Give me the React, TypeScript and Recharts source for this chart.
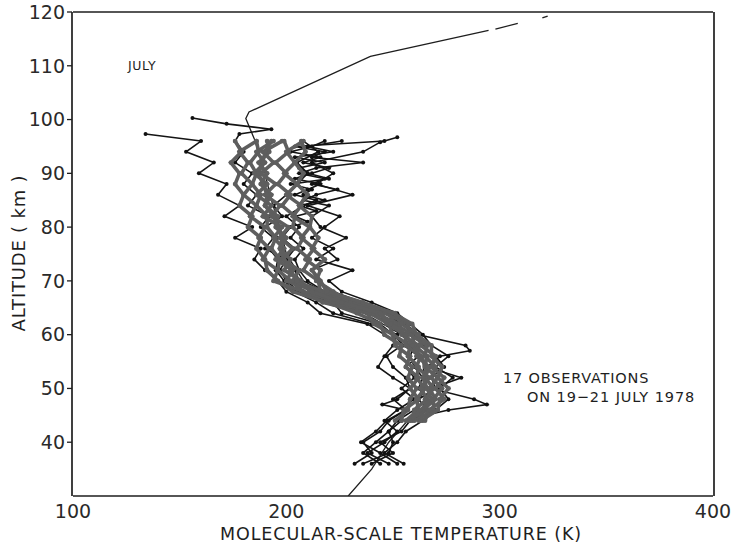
import React from "react";
import { ScatterChart, Scatter, XAxis, YAxis } from "recharts";

// axis ticks
const X_LABELS = [100, 200, 300, 400];
const X_MINOR = [110, 120, 130, 140, 150, 160, 170, 180, 190, 210, 220, 230, 240, 250, 260, 270, 280, 290, 310, 320, 330, 340, 350, 360, 370, 380, 390];
const Y_LABELS = [40, 50, 60, 70, 80, 90, 100, 110, 120];
const Y_MAJOR = [30, 40, 50, 60, 70, 80, 90, 100, 110, 120];
const Y_MINOR = [35, 45, 55, 65, 75, 85, 95, 105, 115];

// reference (model) profile: [altitude km, temperature K]
const MODEL: [number, number][] = [
  [30, 229], [35, 240], [40, 248], [45, 259], [50, 265], [55, 264], [60, 254], [65, 232],
  [70, 208], [75, 200], [80, 197], [85, 193], [90, 190], [96.4, 185], [100.2, 181], [101.4, 182.5],
  [111.75, 239.4], [116.6, 294.8],
];
const MODEL_DASH_1: [number, number][] = [[116.8, 298], [117.9, 308.5]];
const MODEL_DASH_2: [number, number][] = [[118.9, 320], [119.25, 322.5]];

// altitude levels of the dense (grey) profiles
const GREY_ALT = [44, 46, 48, 50, 52, 54, 56, 58, 60, 62, 64, 66, 68, 70, 72, 74, 76, 78, 80, 82, 84, 86, 88, 90, 92, 94, 96];

const OBS_G1 = [251, 257, 258, 261, 257, 259, 253, 254, 246, 244, 233, 219, 203, 196, 191, 190, 186, 188, 182, 184, 178, 180, 176, 178, 174, 179, 176];
const OBS_G2 = [254, 255, 262, 258, 262, 256, 258, 251, 250, 241, 238, 217, 208, 194, 196, 189, 192, 187, 190, 183, 186, 180, 184, 179, 182, 178, 186];
const OBS_G3 = [256, 262, 261, 265, 261, 262, 257, 258, 250, 248, 239, 224, 208, 202, 196, 197, 193, 195, 191, 191, 186, 188, 184, 186, 183, 187, 186];
const OBS_G4 = [259, 260, 266, 263, 267, 261, 263, 256, 256, 247, 244, 222, 214, 200, 203, 195, 199, 194, 198, 189, 193, 186, 191, 185, 190, 186, 194];
const OBS_G5 = [257, 266, 265, 269, 265, 267, 261, 262, 254, 253, 241, 230, 211, 207, 199, 202, 197, 200, 195, 196, 190, 193, 188, 191, 187, 192, 191];
const OBS_G6 = [262, 264, 270, 267, 271, 265, 266, 260, 259, 251, 248, 227, 218, 203, 206, 198, 203, 197, 201, 193, 197, 190, 195, 188, 194, 189, 198];
const OBS_G7 = [260, 269, 269, 273, 268, 270, 265, 266, 258, 257, 246, 233, 216, 215, 208, 211, 205, 208, 203, 204, 198, 202, 196, 200, 195, 201, 199];
const OBS_G8 = [265, 267, 274, 270, 274, 268, 270, 263, 262, 254, 251, 230, 222, 214, 216, 209, 213, 207, 211, 203, 207, 200, 205, 199, 204, 200, 208];
const OBS_G9 = [263, 271, 272, 276, 271, 273, 268, 268, 261, 259, 250, 236, 219, 216, 212, 218, 212, 215, 211, 212, 206, 210, 205, 208, 204, 209, 207];
const OBS_G10 = [258, 263, 268, 266, 264, 266, 263, 259, 256, 249, 244, 226, 212, 205, 202, 199, 197, 198, 196, 194, 190, 191, 189, 187, 189, 190, 193];

// outer (black) profiles: [altitude km, temperature K]
const OBS_B1: [number, number][] = [
  [36, 232], [38, 240], [40, 236], [42, 244], [44, 248], [46, 256], [48, 250], [50, 258], [52, 256], [54, 250],
  [56, 247], [58, 254], [60, 246], [62, 238], [64, 216], [66, 210], [68, 200], [70, 196], [72, 190], [74, 185],
  [76, 188], [78, 176], [80, 184], [82, 171], [84, 178], [86, 168], [88, 172], [90, 159], [92, 166], [94, 153],
  [96, 160], [97.3, 134],
];
const OBS_B2: [number, number][] = [
  [36, 248], [38, 238], [40, 246], [42, 252], [44, 246], [46, 252], [48, 260], [50, 254], [52, 260], [54, 256],
  [56, 262], [58, 255], [60, 250], [62, 244], [64, 226], [66, 222], [68, 206], [70, 200], [72, 197], [74, 200],
  [76, 190], [78, 194], [80, 188], [82, 192], [84, 182], [86, 186], [88, 180], [90, 184], [92, 176], [94, 180],
  [96, 176], [97.3, 178], [98.2, 193], [99.2, 172], [100.3, 156],
];
const OBS_B3: [number, number][] = [
  [36, 255], [38, 246], [40, 252], [42, 256], [44, 264], [46, 270], [48, 276], [50, 272], [52, 278], [54, 270],
  [56, 276], [58, 268], [60, 264], [62, 258], [64, 252], [66, 240], [68, 226], [70, 220], [72, 231], [74, 214],
  [76, 222], [78, 212], [80, 218], [82, 225], [84, 210], [86, 231], [88, 214], [90, 222], [92, 212], [94, 236],
  [95.8, 244], [96.7, 252],
];
const OBS_B4: [number, number][] = [
  [36, 240], [38, 250], [40, 244], [42, 254], [44, 258], [46, 266], [48, 262], [50, 270], [52, 268], [54, 274],
  [56, 270], [58, 264], [60, 260], [62, 254], [64, 246], [66, 236], [68, 222], [70, 215], [72, 212], [74, 224],
  [76, 218], [78, 228], [80, 216], [82, 212], [84, 220], [85, 208], [86, 214], [87, 224], [88, 212], [89, 218],
  [90, 206], [91, 214], [92, 236], [93, 212], [94, 218], [95, 204], [96, 246],
];
const OBS_B5: [number, number][] = [
  [36, 244], [38, 236], [40, 242], [42, 248], [44, 254], [46, 276], [47, 294], [48, 288], [50, 268], [52, 282],
  [54, 266], [56, 272], [57, 286], [58, 284], [60, 262], [62, 256], [64, 248], [66, 230], [68, 218], [70, 210],
  [72, 206], [74, 204], [76, 208], [78, 202], [80, 206], [82, 200], [84, 208], [85, 214], [86, 204], [87, 210],
  [88, 216], [89, 204], [90, 212], [91, 220], [92, 208], [93, 216], [94, 202], [95, 212], [96, 218],
];
const OBS_B6: [number, number][] = [
  [36, 252], [38, 244], [40, 235], [42, 242], [44, 247], [46, 256], [47, 245], [48, 252], [50, 258], [52, 250],
  [54, 243], [56, 246], [58, 250], [60, 252], [62, 240], [64, 222], [66, 214], [68, 204], [70, 199], [72, 195],
  [74, 196], [76, 192], [78, 196], [80, 190], [82, 198], [84, 194], [86, 200], [88, 205], [90, 210], [92, 205],
  [94, 215], [96, 208],
];
const OBS_B7: [number, number][] = [
  [36, 236], [38, 248], [40, 250], [42, 248], [44, 252], [46, 260], [48, 266], [50, 262], [52, 264], [54, 260],
  [56, 258], [58, 260], [60, 256], [62, 250], [64, 238], [66, 228], [68, 214], [70, 206], [72, 204], [74, 200],
  [76, 204], [78, 198], [80, 202], [81, 210], [82, 204], [83, 214], [84, 206], [85, 218], [86, 208], [87, 212],
  [88, 202], [89, 220], [90, 210], [91, 206], [92, 218], [93, 204], [94, 222], [95, 210], [96, 226],
];

const GREY_OBS = [OBS_G1, OBS_G2, OBS_G3, OBS_G4, OBS_G5, OBS_G6, OBS_G7, OBS_G8, OBS_G9, OBS_G10];
const BLACK_OBS = [OBS_B1, OBS_B2, OBS_B3, OBS_B4, OBS_B5, OBS_B6, OBS_B7];

const pairsToPoints = (pairs: [number, number][]) => pairs.map(([z, t]) => ({ t, z }));
const greyToPoints = (temps: number[]) => temps.map((t, i) => ({ t, z: GREY_ALT[i] }));

const INK = "#1e1e1e";
const GREY = "#5e5e5e";
const FONT = "'DejaVu Sans', sans-serif";
const axisLine = { stroke: INK, strokeWidth: 1.7 };
const tickLine = { stroke: INK, strokeWidth: 1.3 };
const tickText = { fill: "#2a2a2a", fontSize: 19, fontFamily: FONT };

const NoDot = () => <g />;
const BlackDot = (props: any) => <circle cx={props.cx} cy={props.cy} r={2} fill="#111" />;
const GreyDot = (props: any) => <circle cx={props.cx} cy={props.cy} r={2.4} fill={GREY} />;

export default function App() {
  return (
    <div style={{ position: "absolute", left: 0, top: 0, width: 739, height: 547, background: "#fff" }}>
      <ScatterChart width={739} height={547} margin={{ top: 12, right: 24, bottom: 50, left: 71 }}>
        {/* main axes */}
        <XAxis xAxisId="x" type="number" dataKey="t" domain={[100, 400]} ticks={X_LABELS} interval={0} height={1} axisLine={axisLine} tickLine={false} tickSize={6} tickMargin={3} tick={tickText} allowDataOverflow />
        <YAxis yAxisId="y" type="number" dataKey="z" domain={[30, 120]} ticks={Y_LABELS} interval={0} width={1} axisLine={axisLine} tickLine={tickLine} tickSize={5} tickMargin={2} tick={tickText} allowDataOverflow />
        {/* minor / inner ticks */}
        <XAxis xAxisId="bmin" type="number" domain={[100, 400]} ticks={X_MINOR} interval={0} height={1} mirror tick={false} axisLine={false} tickLine={tickLine} tickSize={3} allowDataOverflow />
        <XAxis xAxisId="bmaj" type="number" domain={[100, 400]} ticks={X_LABELS} interval={0} height={1} mirror tick={false} axisLine={false} tickLine={tickLine} tickSize={7} allowDataOverflow />
        <XAxis xAxisId="tmaj" orientation="top" type="number" domain={[100, 400]} ticks={X_LABELS} interval={0} height={1} mirror tick={false} axisLine={axisLine} tickLine={tickLine} tickSize={7} allowDataOverflow />
        <XAxis xAxisId="tmin" orientation="top" type="number" domain={[100, 400]} ticks={X_MINOR} interval={0} height={1} mirror tick={false} axisLine={false} tickLine={tickLine} tickSize={3} allowDataOverflow />
        <YAxis yAxisId="lmin" type="number" domain={[30, 120]} ticks={Y_MINOR} interval={0} width={1} tick={false} axisLine={false} tickLine={tickLine} tickSize={3} allowDataOverflow />
        <YAxis yAxisId="rout" orientation="right" type="number" domain={[30, 120]} ticks={Y_MAJOR} interval={0} width={1} tick={false} axisLine={axisLine} tickLine={tickLine} tickSize={6} allowDataOverflow />
        <YAxis yAxisId="rin" orientation="right" type="number" domain={[30, 120]} ticks={Y_MAJOR} interval={0} width={1} mirror tick={false} axisLine={false} tickLine={tickLine} tickSize={5} allowDataOverflow />
        <YAxis yAxisId="rmin" orientation="right" type="number" domain={[30, 120]} ticks={Y_MINOR} interval={0} width={1} tick={false} axisLine={false} tickLine={tickLine} tickSize={3} allowDataOverflow />

        <Scatter xAxisId="x" yAxisId="y" data={pairsToPoints(MODEL)} line={{ stroke: INK, strokeWidth: 1.3 }} shape={NoDot} isAnimationActive={false} />
        <Scatter xAxisId="x" yAxisId="y" data={pairsToPoints(MODEL_DASH_1)} line={{ stroke: INK, strokeWidth: 1.3 }} shape={NoDot} isAnimationActive={false} />
        <Scatter xAxisId="x" yAxisId="y" data={pairsToPoints(MODEL_DASH_2)} line={{ stroke: INK, strokeWidth: 1.3 }} shape={NoDot} isAnimationActive={false} />

        {BLACK_OBS.map((obs, i) => (
          <Scatter key={`b${i}`} xAxisId="x" yAxisId="y" data={pairsToPoints(obs)} line={{ stroke: "#141414", strokeWidth: 1.6 }} shape={BlackDot} isAnimationActive={false} />
        ))}
        {GREY_OBS.map((obs, i) => (
          <Scatter key={`g${i}`} xAxisId="x" yAxisId="y" data={greyToPoints(obs)} line={{ stroke: GREY, strokeWidth: 3.6 }} shape={GreyDot} isAnimationActive={false} />
        ))}
      </ScatterChart>

      <div style={{ position: "absolute", left: 128, top: 60, fontFamily: FONT, fontSize: 12.5, lineHeight: "12.5px", color: INK, letterSpacing: 0.6 }}>JULY</div>
      <div style={{ position: "absolute", left: 503, top: 371, fontFamily: FONT, fontSize: 14.5, lineHeight: "14.5px", color: INK, letterSpacing: 0.8, whiteSpace: "nowrap" }}>17 OBSERVATIONS</div>
      <div style={{ position: "absolute", left: 527, top: 390, fontFamily: FONT, fontSize: 14.5, lineHeight: "14.5px", color: INK, letterSpacing: 0.9, whiteSpace: "nowrap" }}>ON 19−21 JULY 1978</div>
      <div style={{ position: "absolute", left: 220, top: 526, fontFamily: FONT, fontSize: 17.5, lineHeight: "17.5px", color: INK, letterSpacing: 0.9, whiteSpace: "nowrap" }}>MOLECULAR-SCALE TEMPERATURE (K)</div>
      <div style={{ position: "absolute", left: 19, top: 253, fontFamily: FONT, fontSize: 18, lineHeight: "18px", color: INK, letterSpacing: 0.8, whiteSpace: "nowrap", transform: "translate(-50%, -50%) rotate(-90deg)" }}>ALTITUDE ( km )</div>
    </div>
  );
}
